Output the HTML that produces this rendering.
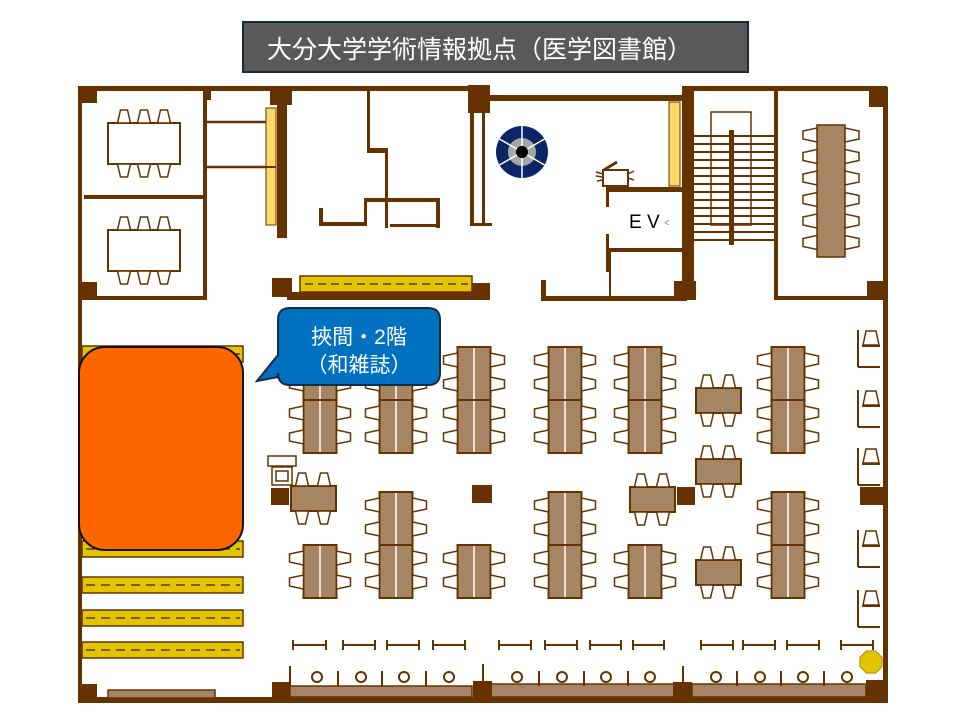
<!DOCTYPE html>
<html><head><meta charset="utf-8"><style>
html,body{margin:0;padding:0;background:#fff;width:960px;height:720px;overflow:hidden}
svg{display:block}
</style></head><body>
<svg id="s" width="960" height="720" viewBox="0 0 960 720" xmlns="http://www.w3.org/2000/svg">
<rect x="243" y="22" width="505" height="50" fill="#595959" stroke="#1b2a36" stroke-width="2"/>
<text x="267" y="58" font-family="'Liberation Sans','Noto Sans CJK JP',sans-serif" font-size="25" fill="#fff">大分大学学術情報拠点（医学図書館）</text>
<g id="g"></g>
</svg>
<script>
const B='#663300',T='#a58563',Y='#e2c400',LY='#ffd966';
let h='';
const R=(x,y,w,hh,f,s,sw)=>{h+=`<rect x="${x}" y="${y}" width="${w}" height="${hh}" fill="${f}"${s?` stroke="${s}" stroke-width="${sw||1.5}"`:''}/>`};
const L=(x1,y1,x2,y2,w,c)=>{h+=`<line x1="${x1}" y1="${y1}" x2="${x2}" y2="${y2}" stroke="${c||B}" stroke-width="${w||2}"/>`};
const P=(pts,f)=>{h+=`<polygon points="${pts}" fill="${f||'#fff'}" stroke="${B}" stroke-width="1.5"/>`};
function chair(cx,cy,dir,w=13,d=13){
 let a=w/2,b=a-3;
 if(dir=='up')P(`${cx-a},${cy} ${cx+a},${cy} ${cx+b},${cy-d} ${cx-b},${cy-d}`);
 if(dir=='down')P(`${cx-a},${cy} ${cx+a},${cy} ${cx+b},${cy+d} ${cx-b},${cy+d}`);
 if(dir=='left')P(`${cx},${cy-a} ${cx},${cy+a} ${cx-d},${cy+b} ${cx-d},${cy-b}`);
 if(dir=='right')P(`${cx},${cy-a} ${cx},${cy+a} ${cx+d},${cy+b} ${cx+d},${cy-b}`);
}
R(78,87,4,616,B);R(78,697,810,6,B);R(883,87,5,616,B);
R(78,86,400,5,B);R(470,95,215,6,B);R(682,86,205,5,B);
R(78,87,19,16,B);R(78,282,19,18,B);R(78,684,19,18,B);
R(203,88,8,12,B);R(270,86,22,19,B);R(468,85,22,28,B);R(869,88,18,19,B);R(867,281,20,19,B);
R(84,195,122,4,B);R(78,296,129,4,B);R(203,93,4,207,B);
[[123],[230]].forEach(([ty])=>{R(108,ty,72,41,'#fff',B,2);[118,138,158].forEach(x=>{chair(x+6,ty,'up');chair(x+6,ty+41,'down')});});
L(207,122,276,122,2.5);L(207,167,276,167,2.5);
R(266,108,10,117,LY,B,1);L(266,167,276,167,2);
R(277,90,10,148,B);
R(367,90,3,63,B);R(367,148,21,5,B);R(385,153,3,75,B);R(364,198,76,4,B);R(364,198,3,28,B);R(320,222,47,4,B);R(319,208,4,18,B);R(436,198,4,30,B);R(390,224,46,3,B);
R(470,100,4,125,B);R(482,100,3,125,B);R(470,223,22,3,B);
R(272,278,20,19,B);R(287,292,200,8,B);R(300,276,172,16,Y,B,1.5);
h+=`<line x1="305" y1="284" x2="468" y2="284" stroke="${B}" stroke-width="1.5" stroke-dasharray="8,5"/>`;
R(472,283,18,17,B);
h+=`<circle cx="522" cy="152" r="26" fill="#0b2566"/><circle cx="522" cy="152" r="14" fill="#a6a6a6"/><circle cx="522" cy="152" r="6" fill="#000"/>`;
for(let i=0;i<6;i++){let a=i*Math.PI/3+Math.PI/2;h+=`<line x1="${522+6*Math.cos(a)}" y1="${152+6*Math.sin(a)}" x2="${522+26*Math.cos(a)}" y2="${152+26*Math.sin(a)}" stroke="#fff" stroke-width="1.5"/>`}
R(603,170,25,16,'#fff',B,2);L(604,170,617,162,3);L(596,172,603,174,1.5);L(596,176,603,177,1.5);L(597,181,603,180,1.5);L(628,174,634,171,1.5);L(628,178,634,180,1.5);
R(669,102,11,84,LY,B,1);R(682,88,12,212,B);
R(606,187,76,5,B);R(606,187,3,20,B);R(606,234,3,38,B);R(609,248,73,4,B);R(609,252,2,45,B);
R(541,280,5,20,B);R(541,296,146,5,B);R(674,281,22,19,B);
h+=`<text x="629" y="228" font-family="'Liberation Sans',sans-serif" font-size="19" fill="#000">E V</text><text x="664" y="226" font-family="'Liberation Sans',sans-serif" font-size="10" fill="#888">&lt;</text>`;
for(let y=136;y<=242;y+=8)L(694,y,774,y,2);
h+=`<rect x="711" y="112" width="40" height="113" fill="none" stroke="${B}" stroke-width="1.5"/>`;
R(729,130,5,115,B);
R(774,88,4,212,B);R(776,296,111,4,B);
R(817,125,28,132,T,B,1.5);
for(let i=0;i<6;i++){let y=135+i*21.5;chair(817,y,'left',14,14);chair(845,y,'right',14,14);}
[[82,346],[82,541],[82,577],[82,610],[82,642]].forEach(([x,y])=>{R(x,y,161,16,Y,B,1.5);h+=`<line x1="${x+4}" y1="${y+8}" x2="${x+158}" y2="${y+8}" stroke="${B}" stroke-width="1.5" stroke-dasharray="9,6"/>`;});
h+=`<rect x="79" y="347" width="164" height="203" rx="26" fill="#ff6600" stroke="#111" stroke-width="2"/>`;
function dd(cx,y){R(cx-16.5,y,33,53,T,B,2);L(cx,y+1,cx,y+52,1.5,'#fff');
 [y+13,y+37].forEach(cy=>{chair(cx-16.5,cy,'left',14,14);chair(cx+16.5,cy,'right',14,14);});}
const cols={320:[347,400,545],396:[347,400,492,545],474:[347,400,545],565:[347,400,492,545],645:[347,400,545],788:[347,400,492,545]};
for(const c in cols)cols[c].forEach(y=>dd(+c,y));
function st(x,y){R(x,y,45,25,T,B,2);[x+11,x+33].forEach(cx=>{chair(cx,y,'up');chair(cx,y+25,'down');});}
st(696,388);st(696,459);st(630,487);st(696,560);st(291,486);
R(268,456,28,10,'#fff',B,1.5);R(272,467,20,18,'#fff',B,1.5);R(276,471,12,10,'#fff',B,1.5);
R(271,488,18,17,B);R(472,485,20,18,B);R(677,487,18,18,B);R(860,487,23,18,B);
[330,390,448,530,590].forEach(y=>{L(858,y,858,y+37,2);L(858,y+37,880,y+37,2);L(862,y+16,880,y+16,2);P(`${863},${y+15} ${879},${y+15} ${876},${y+1} ${866},${y+1}`);});
[[293,326],[343,375],[387,419],[433,465],[499,531],[545,577],[590,621],[633,664],[701,733],[743,775],[787,819],[841,873]].forEach(([a,b])=>{L(a,645,b,645,2);L(a,640,a,650,2);L(b,640,b,650,2);});
R(108,690,107,8,T,B,1.5);R(290,686,182,11,T,B,1.5);R(490,684,185,13,T,B,1.5);R(692,684,174,13,T,B,1.5);
R(272,682,18,16,B);R(473,681,19,17,B);R(673,682,19,16,B);R(866,680,21,20,B);
L(290,666,290,686,2);L(483,664,483,681,2);L(683,666,683,682,2);
[317,361,404,449,517,562,606,650,716,760,803,847].forEach(x=>{h+=`<circle cx="${x}" cy="677" r="5" fill="#fff" stroke="${B}" stroke-width="2"/>`;});
[338,382,426,539,584,628,737,781,824].forEach(x=>L(x,671,x,686,2));
let o=[];for(let i=0;i<8;i++){let a=i*Math.PI/4+Math.PI/8;o.push((871+12*Math.cos(a))+','+(662+12*Math.sin(a)));}
h+=`<polygon points="${o.join(' ')}" fill="#e2c400" stroke="#b09000" stroke-width="1"/>`;
document.getElementById('g').innerHTML=h;
</script>
<svg width="960" height="720" style="position:absolute;left:0;top:0" xmlns="http://www.w3.org/2000/svg">
<path d="M290,308 H428 Q440,308 440,320 V373 Q440,385 428,385 H290 Q278,385 278,373 V377 L257,381 L278,355 V320 Q278,308 290,308 Z" fill="#0070c0" stroke="#132c40" stroke-width="2"/>
<text x="359" y="344" text-anchor="middle" font-family="'Liberation Sans','Noto Sans CJK JP',sans-serif" font-size="21" fill="#fff">挾間・2階</text>
<text x="359" y="372" text-anchor="middle" font-family="'Liberation Sans','Noto Sans CJK JP',sans-serif" font-size="21" fill="#fff">（和雑誌）</text>
</svg>
</body></html>
